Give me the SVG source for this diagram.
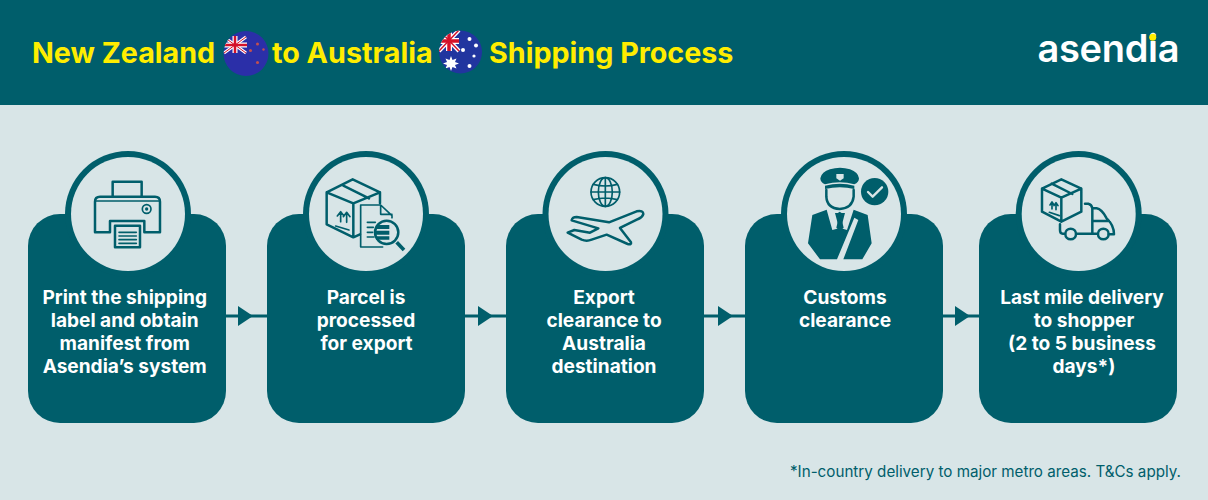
<svg xmlns="http://www.w3.org/2000/svg" width="1208" height="500" viewBox="0 0 1208 500">
<style>
text{font-family:Inter,"Liberation Sans",sans-serif}
.t{font-size:19.1px;font-weight:700;fill:#fff;text-anchor:middle}
.h{font-size:28.7px;font-weight:700;fill:#ffed00}
.c{fill:#005e6b}.l{fill:#d8e5e7}
.s{fill:none;stroke:#005e6b;stroke-width:7.5;stroke-linejoin:round;stroke-linecap:round}
.n{stroke-width:5}
.u{fill:none;stroke:#fff;stroke-linecap:butt}
.r{fill:none;stroke:#d4122a;stroke-linecap:butt}
</style>
<defs>
<clipPath id="nz"><circle cx="246" cy="53.5" r="22.5"/></clipPath>
<clipPath id="au"><circle cx="460.500" cy="52" r="21.5"/></clipPath>
<polygon id="tri" points="0,-10 15,0 0,10" fill="#005e6b"/>
</defs>
<rect width="1208" height="500" fill="#d8e5e7"/>
<g id="header">
<rect width="1208" height="105" fill="#005e6b"/>
<text class="h" x="32" y="63">New Zealand</text>
<text class="h" x="272" y="63">to Australia</text>
<text class="h" x="489" y="63">Shipping Process</text>
<g id="flag-nz" clip-path="url(#nz)">
<rect x="223" y="31" width="46" height="46" fill="#2b2fa8"/>
<path class="u" stroke-width="3" d="M224,37 L246,53 M246,37 L224,53"/>
<path class="u" stroke-width="5" d="M235,36 V53 M223,45 H247"/>
<path class="r" stroke-width="2.5" d="M235,36 V53 M223,45 H247"/>
<path class="r" stroke-width="1" d="M224,37 L246,53 M246,37 L224,53"/>
<g fill="#c2504f"><circle cx="257.500" cy="44" r="1.500"/><circle cx="250.500" cy="50.500" r="1.500"/><circle cx="263.500" cy="49.500" r="1.200"/><circle cx="257.500" cy="62.500" r="1.500"/></g>
</g>
<g id="flag-au" clip-path="url(#au)">
<rect x="438" y="30" width="46" height="44" fill="#21359f"/>
<path class="u" stroke-width="4" d="M439,30 L459,51 M459,30 L439,51"/>
<path class="u" stroke-width="6" d="M449,30 V51 M438,41 H459"/>
<path class="r" stroke-width="3.500" d="M449,30 V51 M438,41 H459"/>
<path class="r" stroke-width="1.500" d="M439,30 L459,51 M459,30 L439,51"/>
<g fill="#fff"><circle cx="469.500" cy="39" r="2"/><circle cx="476" cy="45.500" r="2"/><circle cx="463" cy="50" r="2"/><circle cx="474" cy="56" r="1.600"/><circle cx="469.500" cy="66" r="2"/>
<polygon points="451,56 452.500,60 456.500,58.500 455,62 459,63.500 455,65 456.500,68.500 452.500,67 451,71 449.500,67 445.500,68.500 447,65 443,63.500 447,62 445.500,58.500 449.500,60"/></g>
</g>
<g id="logo">
<text x="1037.500" y="62" font-size="38" font-weight="600" fill="#fff" textLength="142">asendia</text>
<circle cx="1152.700" cy="37.300" r="3.500" fill="#ffed00"/>
</g>
</g>
<g id="connectors">
<g fill="none" stroke="#005e6b" stroke-width="3">
<path d="M226,316H267M465,316H506M704,316H745M943,316H979"/></g>
<use href="#tri" x="238" y="316"/><use href="#tri" x="478" y="316"/><use href="#tri" x="718" y="316"/><use href="#tri" x="955" y="316"/>
</g>
<g id="node-1">
<rect class="c" x="28" y="214" width="198" height="209" rx="32"/>
<circle class="c" cx="128" cy="214" r="63"/><circle class="l" cx="128" cy="214" r="57"/>
<g transform="translate(60,145) scale(.3333)">
<path class="s" d="M158,155V110H245V155"/>
<path class="s" d="M105,262V170Q105,155 120,155H285Q300,155 300,170V262H253V228H150V262Z"/>
<path class="s n" d="M108,168H298"/>
<rect class="s" x="165" y="242" width="75" height="65" stroke-linecap="butt"/>
<path class="s n" d="M177,262H229M177,273H229M177,284H229M177,295H229"/>
<circle class="s n" cx="260" cy="192" r="13"/><circle class="c" cx="260" cy="192" r="5"/>
</g>
<text class="t" x="124.700" y="304">Print the shipping</text>
<text class="t" x="124.700" y="327">label and obtain</text>
<text class="t" x="124.700" y="350">manifest from</text>
<text class="t" x="124.700" y="373">Asendia’s system</text>
</g>
<g id="node-2">
<rect class="c" x="267" y="214" width="198" height="209" rx="32"/>
<circle class="c" cx="366" cy="214" r="63"/><circle class="l" cx="366" cy="214" r="57"/>
<g transform="translate(300,145) scale(.3333)">
<path class="s" d="M240,175V142L158,103L80,142V238L160,277L180,268M80,142L160,175L240,142M160,175V277M130,122L207,160"/>
<path class="s n" d="M122,230V203M112,213L122,200L132,213M140,232V205M130,215L140,202L150,215M107,243L147,255"/>
<path class="s n" d="M248,306H182V180H242L276,212V218M242,180V208H276"/>
<path class="s n" d="M202,232H226M202,247H220M202,262H218M202,276H222"/>
<circle class="s" cx="260" cy="262" r="35"/>
<path d="M228,240H268V252H228ZM225,257H268V269H225ZM228,274H268V284H228Z" fill="#005e6b"/>
<path d="M290,292L312,315" stroke="#005e6b" stroke-width="11" fill="none"/>
</g>
<text class="t" x="366" y="304">Parcel is</text>
<text class="t" x="366" y="327">processed</text>
<text class="t" x="366.500" y="350">for export</text>
</g>
<g id="node-3">
<rect class="c" x="506" y="214" width="198" height="209" rx="32"/>
<circle class="c" cx="605.500" cy="214" r="63"/><circle class="l" cx="605.500" cy="214" r="57"/>
<g transform="translate(535,145) scale(.3333)">
<circle class="s n" cx="211" cy="141" r="43"/><ellipse class="s n" cx="211" cy="141" rx="21" ry="43"/>
<path class="s n" d="M211,98V184M168,141H254M175,118Q211,128 247,118M175,164Q211,154 247,164"/>
<path class="s" d="M110,226Q112,216 125,216L222,232L305,199Q325,195 325,207Q323,216 310,222L255,249L288,292Q290,300 278,297L215,269L170,284Q155,290 140,284L98,263L118,255L165,263L190,250Z"/>
</g>
<text class="t" x="604" y="304">Export</text>
<text class="t" x="604" y="327">clearance to</text>
<text class="t" x="604" y="350">Australia</text>
<text class="t" x="604" y="373">destination</text>
</g>
<g id="node-4">
<rect class="c" x="745" y="214" width="198" height="209" rx="32"/>
<circle class="c" cx="844" cy="214" r="63"/><circle class="l" cx="844" cy="214" r="57"/>
<g transform="translate(775,145) scale(.3333)">
<path class="c" d="M136,100Q140,80 165,73Q195,63 225,73Q250,82 252,100Q252,112 238,118Q195,106 150,118Q136,112 136,100Z"/>
<path class="c" d="M150,122Q195,110 238,122V132Q195,122 150,132Z"/>
<path d="M184,87H206V100L195,107L184,100Z" fill="#d8e5e7"/>
<path class="s" d="M154,135V155Q156,190 194,192Q232,190 236,155V135"/>
<path d="M112,210L155,194L172,255L192,250L180,204H210L198,250L216,255L236,194L278,210L290,295L262,343H205L250,225L238,218L186,343H135L99,295Z" fill="#005e6b"/>
<path d="M183,208L194,200L206,208L199,218L206,248L195,258L184,248L191,218Z" fill="#005e6b"/>
<circle class="c" cx="299" cy="140" r="41"/>
<path d="M279,141L293,155L321,127" fill="none" stroke="#d8e5e7" stroke-width="7" stroke-linecap="round" stroke-linejoin="round"/>
</g>
<text class="t" x="845" y="304">Customs</text>
<text class="t" x="845" y="327">clearance</text>
</g>
<g id="node-5">
<rect class="c" x="979" y="214" width="198" height="209" rx="32"/>
<circle class="c" cx="1078.700" cy="214" r="63"/><circle class="l" cx="1078.700" cy="214" r="57"/>
<g transform="translate(1010,145) scale(.3333)">
<path class="s" d="M154,103L214,131V200L154,230L96,200V131ZM96,131L154,158L214,131M154,158V230M125,116L187,147"/>
<path class="s n" d="M126,192V172M120,180L126,171L132,180M138,194V174M132,182L138,173L144,182M118,202L148,212"/>
<path class="s" d="M225,176H235Q245,178 247,190H260Q275,192 290,220Q312,240 312,268H296M247,190V266H200M263,266H200M165,266H158Q150,266 150,255V238M297,228H252"/>
<circle class="s" cx="182" cy="267" r="16"/><circle class="s" cx="280" cy="267" r="16"/>
</g>
<text class="t" x="1082" y="304">Last mile delivery</text>
<text class="t" x="1084" y="327">to shopper</text>
<text class="t" x="1082" y="350">(2 to 5 business</text>
<text class="t" x="1084" y="373">days*)</text>
</g>
<text id="footnote" x="1181" y="477" font-size="15.200" fill="#005e6b" text-anchor="end">*In-country delivery to major metro areas. T&amp;Cs apply.</text>
</svg>
